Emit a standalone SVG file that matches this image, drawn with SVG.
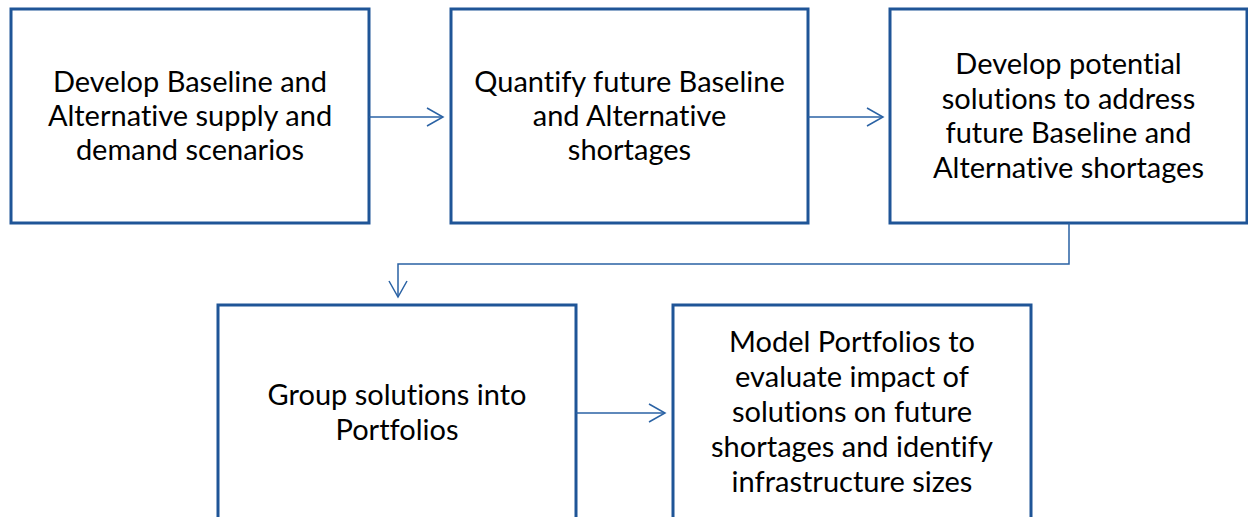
<svg xmlns="http://www.w3.org/2000/svg" width="1248" height="517" viewBox="0 0 1248 517">
  <style>
    .box { fill: #ffffff; stroke: #1f5597; stroke-width: 3; }
    .lbl { font-family: "Lato", "Open Sans", "Liberation Sans", sans-serif; font-size: 29px; fill: #000000; text-anchor: middle; font-variant-ligatures: none; }
    .link { fill: none; stroke: #2a62a4; stroke-width: 1.5; }
  </style>
  <defs>
    <marker id="open-arrow" markerWidth="20" markerHeight="20" refX="17" refY="10" orient="auto" markerUnits="userSpaceOnUse">
      <path d="M1,1 L17,10 L1,19" fill="none" stroke="#2a62a4" stroke-width="1.5"/>
    </marker>
  </defs>
  <rect width="1248" height="517" fill="#ffffff"/>

  <g id="scenarios">
    <rect class="box" x="11" y="9" width="358" height="214"/>
    <text class="lbl" x="190" y="92">Develop Baseline and</text>
    <text class="lbl" x="190" y="126">Alternative supply and</text>
    <text class="lbl" x="190" y="160">demand scenarios</text>
  </g>

  <g id="shortages">
    <rect class="box" x="451" y="9" width="357" height="214"/>
    <text class="lbl" x="629.5" y="92">Quantify future Baseline</text>
    <text class="lbl" x="629.5" y="126">and Alternative</text>
    <text class="lbl" x="629.5" y="160">shortages</text>
  </g>

  <g id="solutions">
    <rect class="box" x="890" y="9" width="357" height="214"/>
    <text class="lbl" x="1068.5" y="74">Develop potential</text>
    <text class="lbl" x="1068.5" y="108.5">solutions to address</text>
    <text class="lbl" x="1068.5" y="143">future Baseline and</text>
    <text class="lbl" x="1068.5" y="177.5">Alternative shortages</text>
  </g>

  <g id="portfolios">
    <rect class="box" x="218" y="305" width="358" height="230"/>
    <text class="lbl" x="397" y="405">Group solutions into</text>
    <text class="lbl" x="397" y="440">Portfolios</text>
  </g>

  <g id="model">
    <rect class="box" x="673" y="305" width="358" height="230"/>
    <text class="lbl" x="852" y="352">Model Portfolios to</text>
    <text class="lbl" x="852" y="387">evaluate impact of</text>
    <text class="lbl" x="852" y="422">solutions on future</text>
    <text class="lbl" x="852" y="457">shortages and identify</text>
    <text class="lbl" x="852" y="492">infrastructure sizes</text>
  </g>

  <g id="connectors">
    <path class="link" d="M369,117 H443" marker-end="url(#open-arrow)"/>
    <path class="link" d="M808,117 H883" marker-end="url(#open-arrow)"/>
    <path class="link" d="M1069,223 V264 H398 V297" marker-end="url(#open-arrow)"/>
    <path class="link" d="M576,413 H665" marker-end="url(#open-arrow)"/>
  </g>
</svg>
